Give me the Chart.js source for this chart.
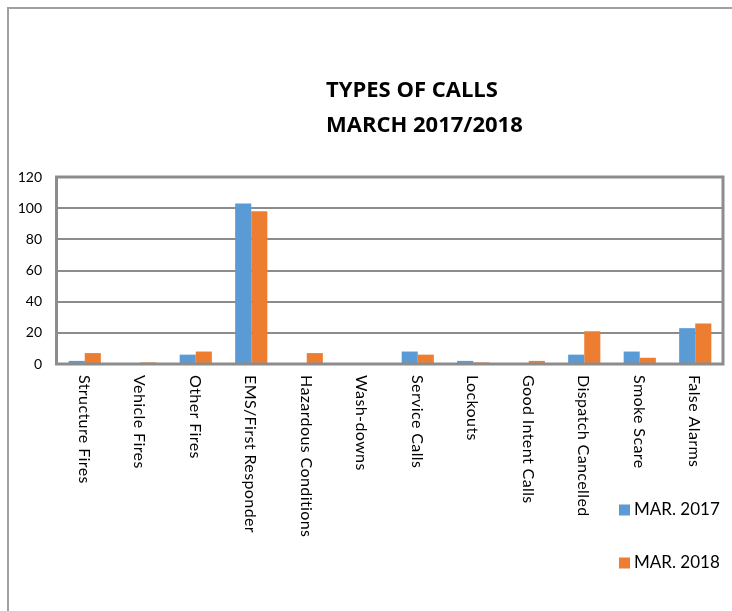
<!DOCTYPE html>
<html>
<head>
<meta charset="utf-8">
<script src="https://cdn.jsdelivr.net/npm/chart.js@4"></script>
<style>
  body { margin: 0; background: #fff; }
  #wrap { width: 732px; height: 611px; position: relative; }
</style>
</head>
<body>
<div id="wrap"><canvas id="calls-chart"></canvas></div>
<script>
// Chart data
const categories = ['Structure Fires', 'Vehicle Fires', 'Other Fires', 'EMS/First Responder',
  'Hazardous Conditions', 'Wash-downs', 'Service Calls', 'Lockouts', 'Good Intent Calls',
  'Dispatch Cancelled', 'Smoke Scare', 'False Alarms'];
const mar2017 = [2, 0, 6, 103, 0, 0, 8, 2, 0, 6, 8, 23];
const mar2018 = [7, 1, 8, 98, 7, 0, 6, 1, 2, 21, 4, 26];
const seriesNames = ['MAR. 2017', 'MAR. 2018'];
const titleLines = ['TYPES OF CALLS', 'MARCH 2017/2018'];
const yTicks = [0, 20, 40, 60, 80, 100, 120];

const gridGray = '#8c8c8c';

// Draws the outer border, frame, title, rotated category labels and legend
const decorations = {
  id: 'decorations',
  beforeDraw(chart) {
    const ctx = chart.ctx;
    ctx.save();
    ctx.strokeStyle = '#a0a0a0';
    ctx.lineWidth = 2;
    ctx.strokeRect(8, 8, 900, 900);
    ctx.restore();
  },
  afterDraw(chart) {
    const ctx = chart.ctx;
    const area = chart.chartArea;
    const xScale = chart.scales.x;
    ctx.save();

    // plot frame
    ctx.strokeStyle = gridGray;
    ctx.lineWidth = 3;
    ctx.strokeRect(area.left - 0.5, area.top, area.right - area.left + 0.5, area.bottom - area.top);

    // title
    ctx.fillStyle = '#000';
    ctx.font = 'bold 22px "Open Sans"';
    ctx.textAlign = 'left';
    ctx.textBaseline = 'alphabetic';
    ctx.fillText(titleLines[0], 326, 97);
    ctx.fillText(titleLines[1], 326, 132);

    // category labels, reading top to bottom
    ctx.font = '16px Lato';
    ctx.letterSpacing = '0.4px';
    ctx.textBaseline = 'middle';
    categories.forEach((label, i) => {
      const x = xScale.getPixelForValue(i);
      ctx.save();
      ctx.translate(x - 1, area.bottom + 11);
      ctx.rotate(Math.PI / 2);
      ctx.fillText(label, 0, 0);
      ctx.restore();
    });
    ctx.letterSpacing = '0px';

    // legend
    ctx.font = '17px Lato';
    chart.data.datasets.forEach((ds, i) => {
      const y = 510 + i * 53;
      ctx.fillStyle = ds.backgroundColor;
      ctx.fillRect(619, y - 5.5, 11, 11);
      ctx.fillStyle = '#000';
      ctx.fillText(ds.label, 634, y);
    });
    ctx.restore();
  }
};

const ctx = document.getElementById('calls-chart').getContext('2d');
new Chart(ctx, {
  type: 'bar',
  data: {
    labels: categories,
    datasets: [
      { label: seriesNames[0], data: mar2017, backgroundColor: '#5B9BD5' },
      { label: seriesNames[1], data: mar2018, backgroundColor: '#ED7D31' }
    ]
  },
  options: {
    responsive: true,
    maintainAspectRatio: false,
    animation: false,
    categoryPercentage: 0.58,
    barPercentage: 1.0,
    layout: { padding: { top: 177, right: 9, left: 0, bottom: 0 } },
    plugins: {
      legend: { display: false },
      title: { display: false },
      tooltip: { enabled: false }
    },
    scales: {
      x: {
        grid: { display: false },
        border: { display: false },
        ticks: { display: false },
        afterFit: (scale) => { scale.height = 611 - 364; }
      },
      y: {
        min: 0,
        max: 120,
        afterBuildTicks: (scale) => { scale.ticks = yTicks.map(v => ({ value: v })); },
        ticks: { color: '#000', font: { family: 'Lato', size: 14 }, padding: 15 },
        grid: { color: gridGray, lineWidth: 2, drawTicks: false },
        border: { display: false },
        afterFit: (scale) => { scale.width = 57; }
      }
    }
  },
  plugins: [decorations]
});
</script>
</body>
</html>
